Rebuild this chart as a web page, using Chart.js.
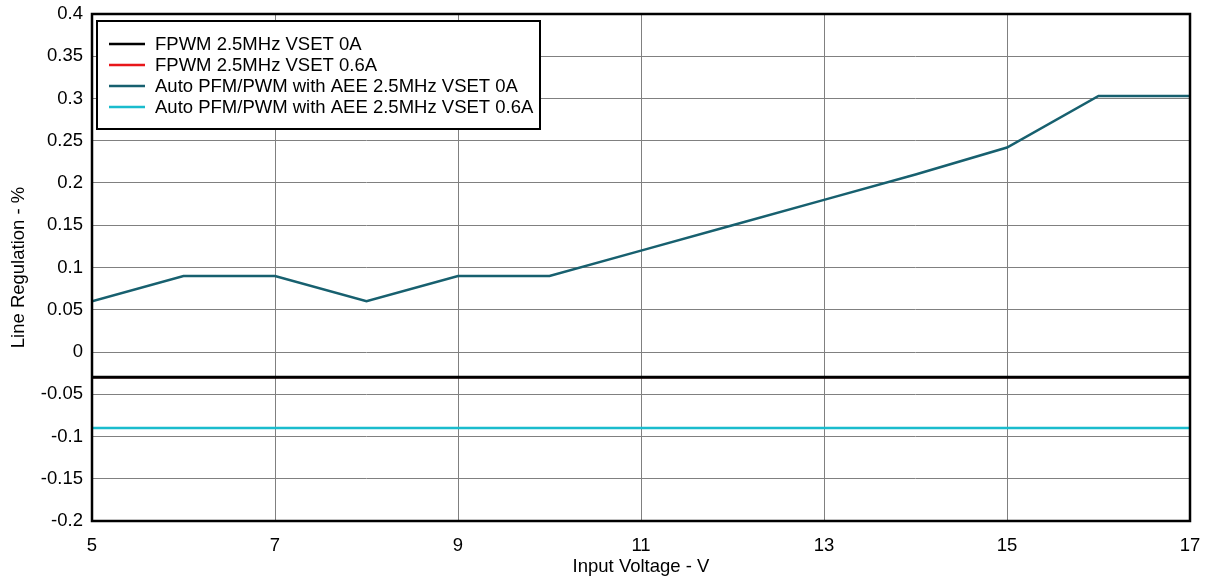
<!DOCTYPE html>
<html>
<head>
<meta charset="utf-8">
<script src="https://cdn.jsdelivr.net/npm/chart.js@4"></script>
<style>
  html, body { margin: 0; padding: 0; background: #fff; }
  #wrap { width: 1208px; height: 582px; }
</style>
</head>
<body>
<div id="wrap"><canvas id="lineReg"></canvas></div>
<script>
const vin = [5, 6, 7, 8, 9, 10, 11, 12, 13, 14, 15, 16, 17];
const fpwm0A = [-0.03, -0.03, -0.03, -0.03, -0.03, -0.03, -0.03, -0.03, -0.03, -0.03, -0.03, -0.03, -0.03];
const fpwm06A = [-0.03, -0.03, -0.03, -0.03, -0.03, -0.03, -0.03, -0.03, -0.03, -0.03, -0.03, -0.03, -0.03];
const auto0A = [0.06, 0.09, 0.09, 0.06, 0.09, 0.09, 0.12, 0.15, 0.18, 0.21, 0.242, 0.303, 0.303];
const auto06A = [-0.09, -0.09, -0.09, -0.09, -0.09, -0.09, -0.09, -0.09, -0.09, -0.09, -0.09, -0.09, -0.09];

const seriesNames = [
    "FPWM 2.5MHz VSET 0A",
    "FPWM 2.5MHz VSET 0.6A",
    "Auto PFM/PWM with AEE 2.5MHz VSET 0A",
    "Auto PFM/PWM with AEE 2.5MHz VSET 0.6A"
];
const seriesColors = ["#000000", "#e8161a", "#17606f", "#1abccd"];
const seriesWidths = [3, 2, 2.5, 2.5];

const FONT = "'Liberation Sans', Arial, sans-serif";
const FSIZE = 18.5;

function toPoints(ys) {
    return vin.map((x, i) => ({ x: x, y: ys[i] }));
}

// box around the plot area
const frame = {
    id: "frame",
    afterDatasetsDraw(chart) {
        const a = chart.chartArea, ctx = chart.ctx;
        ctx.save();
        ctx.strokeStyle = "#000";
        ctx.lineWidth = 2.5;
        ctx.strokeRect(a.left, a.top, a.right - a.left, a.bottom - a.top);
        ctx.restore();
    }
};

// legend drawn inside the plot, top left
const innerLegend = {
    id: "innerLegend",
    afterDraw(chart) {
        const a = chart.chartArea, ctx = chart.ctx;
        const x0 = a.left + 5, y0 = a.top + 7, w = 443, h = 108;
        ctx.save();
        ctx.fillStyle = "#fff";
        ctx.fillRect(x0, y0, w, h);
        ctx.strokeStyle = "#000";
        ctx.lineWidth = 2;
        ctx.strokeRect(x0, y0, w, h);
        ctx.font = FSIZE + "px " + FONT;
        ctx.textBaseline = "middle";
        chart.data.datasets.forEach((ds, i) => {
            const y = y0 + 23 + i * 21;
            ctx.strokeStyle = ds.borderColor;
            ctx.lineWidth = 2.5;
            ctx.beginPath();
            ctx.moveTo(x0 + 12, y);
            ctx.lineTo(x0 + 48, y);
            ctx.stroke();
            ctx.fillStyle = "#000";
            ctx.fillText(ds.label, x0 + 58, y + 1);
        });
        ctx.restore();
    }
};

new Chart(document.getElementById("lineReg"), {
    type: "line",
    data: {
        datasets: [fpwm0A, fpwm06A, auto0A, auto06A].map((ys, i) => ({
            label: seriesNames[i],
            data: toPoints(ys),
            borderColor: seriesColors[i],
            backgroundColor: seriesColors[i],
            borderWidth: seriesWidths[i],
            pointRadius: 0,
            tension: 0
        }))
    },
    options: {
        responsive: true,
        maintainAspectRatio: false,
        animation: false,
        layout: { padding: { top: 14, right: 18, left: 0, bottom: 4 } },
        plugins: {
            legend: { display: false },
            tooltip: { enabled: false }
        },
        scales: {
            x: {
                type: "linear",
                min: 5,
                max: 17,
                afterFit(scale) {
                    scale.height = 57;
                    scale.paddingLeft = 0;
                    scale.paddingRight = 0;
                },
                ticks: {
                    stepSize: 2,
                    color: "#000",
                    font: { family: FONT, size: FSIZE },
                    padding: 14
                },
                grid: { color: "#808080", lineWidth: 1, drawTicks: false },
                border: { display: false },
                title: {
                    display: true,
                    text: "Input Voltage - V",
                    color: "#000",
                    font: { family: FONT, size: FSIZE },
                    padding: { top: 0, bottom: 0 }
                }
            },
            y: {
                min: -0.2,
                max: 0.4,
                afterFit(scale) {
                    scale.width = 92;
                    scale.paddingTop = 0;
                    scale.paddingBottom = 0;
                },
                ticks: {
                    stepSize: 0.05,
                    color: "#000",
                    font: { family: FONT, size: FSIZE },
                    padding: 9,
                    callback: v => String(Math.round(v * 100) / 100)
                },
                grid: { color: "#808080", lineWidth: 1, drawTicks: false },
                border: { display: false },
                title: {
                    display: true,
                    text: "Line Regulation - %",
                    color: "#000",
                    font: { family: FONT, size: FSIZE },
                    padding: { top: 8, bottom: 6 }
                }
            }
        }
    },
    plugins: [frame, innerLegend]
});
</script>
</body>
</html>
